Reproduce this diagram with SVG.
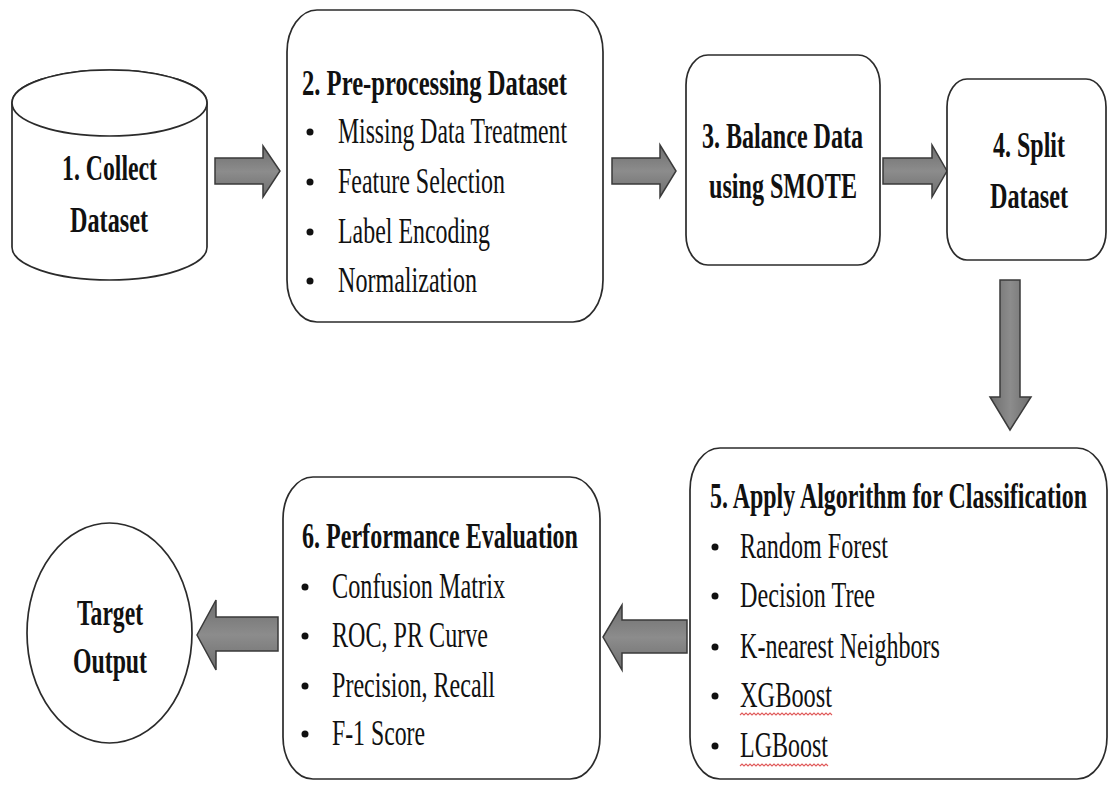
<svg xmlns="http://www.w3.org/2000/svg" width="1109" height="789" viewBox="0 0 1109 789">
  <defs>
    <linearGradient id="arrowFillH" x1="0" y1="0" x2="0" y2="1">
      <stop offset="0" stop-color="#6e6e6e"/>
      <stop offset="0.5" stop-color="#8c8c8c"/>
      <stop offset="1" stop-color="#6e6e6e"/>
    </linearGradient>
    <linearGradient id="arrowFillV" x1="0" y1="0" x2="1" y2="0">
      <stop offset="0" stop-color="#6e6e6e"/>
      <stop offset="0.5" stop-color="#8c8c8c"/>
      <stop offset="1" stop-color="#6e6e6e"/>
    </linearGradient>
    <style>
      .shape { fill: #ffffff; stroke: #2b2b2b; stroke-width: 1.7; }
      .arrowH { fill: url(#arrowFillH); stroke: #3a3a3a; stroke-width: 1.5; stroke-linejoin: miter; }
      .arrowV { fill: url(#arrowFillV); stroke: #3a3a3a; stroke-width: 1.5; stroke-linejoin: miter; }
      .bold { font-family: "Liberation Serif", "Times New Roman", serif; font-weight: bold; font-size: 35px; fill: #111; }
      .body { font-family: "Liberation Serif", "Times New Roman", serif; font-size: 35px; fill: #111; }
      .dot { fill: #111; }
      .squiggle { fill: none; stroke: #e05a5a; stroke-width: 1.1; }
    </style>
  </defs>

  <rect width="1109" height="789" fill="#ffffff"/>

  <!-- Flow arrows between steps -->
  <g id="connectors">
    <polygon class="arrowH" points="215,158 263,158 263,146 280,171 263,197 263,184 215,184"/>
    <polygon class="arrowH" points="612,158 660,158 660,145 676,171 660,197 660,184 612,184"/>
    <polygon class="arrowH" points="883,158 932,158 932,145 947,171 932,197 932,184 883,184"/>
    <polygon class="arrowV" points="1000,280 1020,280 1020,397 1031,397 1010,430 990,397 1000,397"/>
    <polygon class="arrowH" points="687,620 622,620 622,605 603,637 622,670 622,653 687,653"/>
    <polygon class="arrowH" points="278,617 216,617 216,600 197,635 216,670 216,651 278,651"/>
  </g>

  <!-- Step 1: data source -->
  <g id="collect">
    <path class="shape" d="M12,103 A97.5,33 0 0 1 207,103 V247 A97.5,33 0 0 1 12,247 Z"/>
    <ellipse class="shape" cx="109.5" cy="103" rx="97.5" ry="33"/>
    <text class="bold" x="62" y="180" textLength="95" lengthAdjust="spacingAndGlyphs">1. Collect</text>
    <text class="bold" x="70" y="232" textLength="78" lengthAdjust="spacingAndGlyphs">Dataset</text>
  </g>

  <!-- Step 2 -->
  <g id="preprocess">
    <rect class="shape" x="287" y="10" width="316" height="312" rx="30" ry="42"/>
    <text class="bold" x="302" y="95" textLength="265" lengthAdjust="spacingAndGlyphs">2. Pre-processing Dataset</text>
    <circle class="dot" cx="310" cy="132" r="3.5"/>
    <text class="body" x="338" y="143" textLength="229" lengthAdjust="spacingAndGlyphs">Missing Data Treatment</text>
    <circle class="dot" cx="310" cy="182" r="3.5"/>
    <text class="body" x="338" y="193" textLength="167" lengthAdjust="spacingAndGlyphs">Feature Selection</text>
    <circle class="dot" cx="310" cy="232" r="3.5"/>
    <text class="body" x="338" y="243" textLength="152" lengthAdjust="spacingAndGlyphs">Label Encoding</text>
    <circle class="dot" cx="310" cy="281" r="3.5"/>
    <text class="body" x="338" y="292" textLength="139" lengthAdjust="spacingAndGlyphs">Normalization</text>
  </g>

  <!-- Step 3 -->
  <g id="balance">
    <rect class="shape" x="686" y="55" width="194" height="210" rx="22" ry="30"/>
    <text class="bold" x="702" y="148" textLength="161" lengthAdjust="spacingAndGlyphs">3. Balance Data</text>
    <text class="bold" x="709" y="198" textLength="148" lengthAdjust="spacingAndGlyphs">using SMOTE</text>
  </g>

  <!-- Step 4 -->
  <g id="split">
    <rect class="shape" x="947" y="79" width="159" height="181" rx="20" ry="28"/>
    <text class="bold" x="993" y="157" textLength="72" lengthAdjust="spacingAndGlyphs">4. Split</text>
    <text class="bold" x="990" y="208" textLength="78" lengthAdjust="spacingAndGlyphs">Dataset</text>
  </g>

  <!-- Step 5 -->
  <g id="classify">
    <rect class="shape" x="690" y="448" width="417" height="331" rx="30" ry="42"/>
    <text class="bold" transform="translate(710,508) scale(0.685,1)" x="0" y="0">5. Apply Algorithm for Classification</text>
    <circle class="dot" cx="715" cy="547" r="3.5"/>
    <text class="body" x="740" y="558" textLength="148" lengthAdjust="spacingAndGlyphs">Random Forest</text>
    <circle class="dot" cx="715" cy="596" r="3.5"/>
    <text class="body" x="740" y="607" textLength="135" lengthAdjust="spacingAndGlyphs">Decision Tree</text>
    <circle class="dot" cx="715" cy="647" r="3.5"/>
    <text class="body" x="740" y="658" textLength="200" lengthAdjust="spacingAndGlyphs">K-nearest Neighbors</text>
    <circle class="dot" cx="715" cy="696" r="3.5"/>
    <text class="body" x="740" y="707" textLength="92" lengthAdjust="spacingAndGlyphs">XGBoost</text>
    <path class="squiggle" d="M740,715 l2,-2 l2,2 l2,-2 l2,2 l2,-2 l2,2 l2,-2 l2,2 l2,-2 l2,2 l2,-2 l2,2 l2,-2 l2,2 l2,-2 l2,2 l2,-2 l2,2 l2,-2 l2,2 l2,-2 l2,2 l2,-2 l2,2 l2,-2 l2,2 l2,-2 l2,2 l2,-2 l2,2 l2,-2 l2,2 l2,-2 l2,2 l2,-2 l2,2 l2,-2 l2,2 l2,-2 l2,2 l2,-2 l2,2 l2,-2 l2,2 l2,-2 l2,2"/>
    <circle class="dot" cx="715" cy="746" r="3.5"/>
    <text class="body" x="740" y="757" textLength="88" lengthAdjust="spacingAndGlyphs">LGBoost</text>
    <path class="squiggle" d="M740,766 l2,-2 l2,2 l2,-2 l2,2 l2,-2 l2,2 l2,-2 l2,2 l2,-2 l2,2 l2,-2 l2,2 l2,-2 l2,2 l2,-2 l2,2 l2,-2 l2,2 l2,-2 l2,2 l2,-2 l2,2 l2,-2 l2,2 l2,-2 l2,2 l2,-2 l2,2 l2,-2 l2,2 l2,-2 l2,2 l2,-2 l2,2 l2,-2 l2,2 l2,-2 l2,2 l2,-2 l2,2 l2,-2 l2,2 l2,-2 l2,2"/>
  </g>

  <!-- Step 6 -->
  <g id="evaluate">
    <rect class="shape" x="283" y="477" width="317" height="302" rx="30" ry="42"/>
    <text class="bold" x="302" y="548" textLength="276" lengthAdjust="spacingAndGlyphs">6. Performance Evaluation</text>
    <circle class="dot" cx="305" cy="587" r="3.5"/>
    <text class="body" x="332" y="598" textLength="173" lengthAdjust="spacingAndGlyphs">Confusion Matrix</text>
    <circle class="dot" cx="305" cy="636" r="3.5"/>
    <text class="body" x="332" y="647" textLength="156" lengthAdjust="spacingAndGlyphs">ROC, PR Curve</text>
    <circle class="dot" cx="305" cy="686" r="3.5"/>
    <text class="body" x="332" y="697" textLength="163" lengthAdjust="spacingAndGlyphs">Precision, Recall</text>
    <circle class="dot" cx="305" cy="734" r="3.5"/>
    <text class="body" x="332" y="745" textLength="93" lengthAdjust="spacingAndGlyphs">F-1 Score</text>
  </g>

  <!-- Result -->
  <g id="target">
    <ellipse class="shape" cx="109.5" cy="633" rx="82.5" ry="110"/>
    <text class="bold" x="77" y="625" textLength="66" lengthAdjust="spacingAndGlyphs">Target</text>
    <text class="bold" x="73" y="673" textLength="74" lengthAdjust="spacingAndGlyphs">Output</text>
  </g>
</svg>
